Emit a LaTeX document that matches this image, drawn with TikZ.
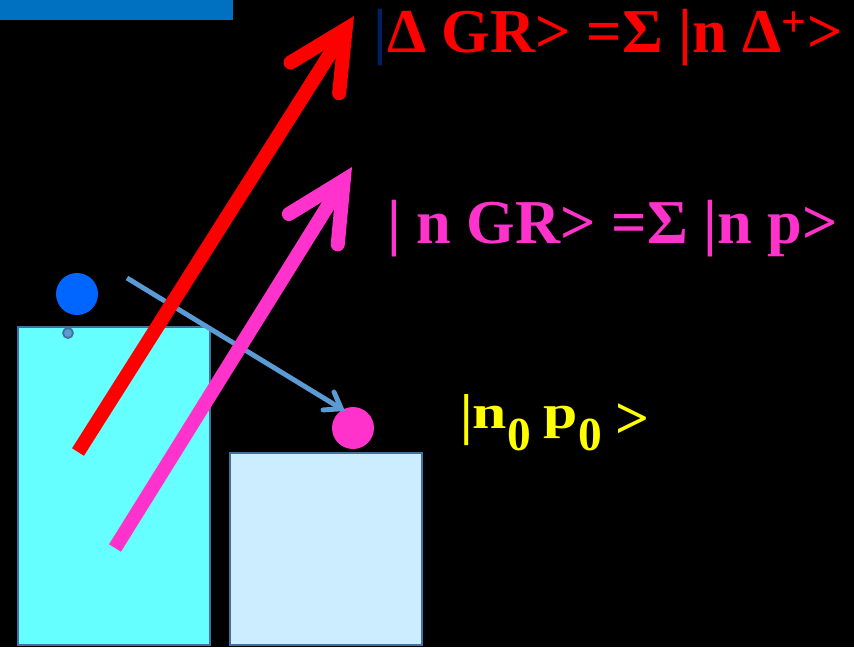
\documentclass[tikz,border=0pt]{standalone}
\usepackage{fontspec}
\setmainfont{Liberation Serif}
\newfontfamily\widefont[FakeStretch=1.3]{Liberation Serif}
\usetikzlibrary{arrows.meta}
\definecolor{barblue}{HTML}{0070C0}
\definecolor{edge}{HTML}{41719C}
\definecolor{lcyan}{HTML}{66FFFF}
\definecolor{lsky}{HTML}{CCECFF}
\definecolor{ballblue}{HTML}{0066FF}
\definecolor{dotblue}{HTML}{5B9BD5}
\definecolor{magn}{HTML}{FF33CC}
\definecolor{navy}{HTML}{002060}
\definecolor{ylw}{HTML}{FFFF00}
\newcommand{\sub}[1]{\raisebox{-13pt}{\fontsize{27}{30}\selectfont #1}}
\tikzset{
  vessel/.style={draw=edge,line width=1.2pt,inner sep=0pt},
  ball/.style={circle,inner sep=0pt,minimum size=0.84cm},
  fat/.style={line width=8pt,-{Straight Barb[line cap=round,line join=miter,length=1.15cm,width=1.15cm]}},
  thin/.style={line width=2.8pt,draw=dotblue,-{Straight Barb[line cap=round,line join=miter,length=0.3cm,width=0.42cm]}},
  ket/.style={anchor=base west,inner sep=0pt,font=\bfseries\fontsize{35.5}{40}\selectfont},
}
\begin{document}
\begin{tikzpicture}[x=0.02cm,y=-0.02cm]
\fill[black] (0,0) rectangle (854,647);
\fill[barblue] (0,0) rectangle (233,20);
% levels
\node[vessel,fill=lcyan,minimum width=3.84cm,minimum height=6.36cm] (well) at (114,486) {};
\node[vessel,fill=lsky,minimum width=3.84cm,minimum height=3.84cm] (step2) at (326,549) {};
\node[ball,fill=ballblue] (nball) at (77,294) {};
\node[circle,inner sep=0pt,minimum size=0.2cm,fill=dotblue,draw=edge,line width=1pt] (hole) at (68,333) {};
\node[ball,fill=magn] (pball) at (353,428) {};
% transitions
\coordinate (rA) at (78,452);
\coordinate (rB) at (354,16);
\coordinate (pA) at (115,548);
\coordinate (pB) at (352,167);
\coordinate (bA) at (127,278);
\coordinate (bB) at (345,411);
\draw[thin] (bA) -- (bB);
\draw[fat,draw=red] (rA) -- (rB);
\draw[fat,draw=magn] (pA) -- (pB);
% states
\node[ket,text=red] (dgr) at (373,52) {\textcolor{navy}{|}Δ GR> =Σ |n Δ\textsuperscript{+}>};
\node[ket,text=magn] (ngr) at (387,243) {| n GR> =Σ |n p>};
\node[ket,text=ylw,font=\bfseries\fontsize{30}{34}\selectfont] (np0) at (460,428)
  {\raisebox{-3pt}{\fontsize{32}{34}\selectfont |}{\widefont\fontsize{27}{30}\selectfont n}\sub{0} {\widefont\fontsize{27}{30}\selectfont p}\sub{0} \raisebox{-6pt}{\fontsize{34}{38}\selectfont >}};
\end{tikzpicture}
\end{document}
